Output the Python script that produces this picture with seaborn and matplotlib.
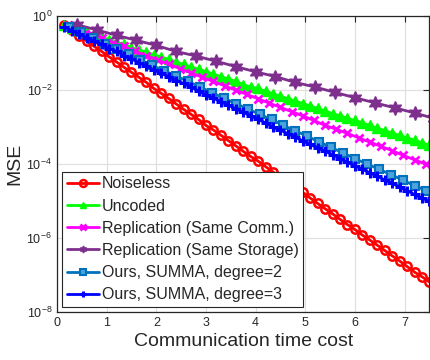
import numpy as np
import matplotlib
matplotlib.use('Agg')
import matplotlib.pyplot as plt
import seaborn as sns

# MSE values (log axis), one list per method
# time step between markers (communication time per iteration) for each method
step_noiseless = 0.15
step_uncoded = 0.15
step_rep_comm = 0.225
step_rep_storage = 0.4
step_summa2 = 0.24
step_summa3 = 0.15

mse_noiseless = [5.6e-1, 4.1e-1, 2.9e-1, 2.1e-1, 1.5e-1, 1.1e-1, 7.9e-2, 5.7e-2, 4.1e-2, 3.0e-2,
                 2.2e-2, 1.6e-2, 1.1e-2, 8.1e-3, 5.9e-3, 4.2e-3, 3.0e-3, 2.2e-3, 1.6e-3, 1.1e-3,
                 8.3e-4, 6.0e-4, 4.3e-4, 3.1e-4, 2.2e-4, 1.6e-4, 1.2e-4, 8.5e-5, 6.1e-5, 4.4e-5,
                 3.2e-5, 2.3e-5, 1.7e-5, 1.2e-5, 8.6e-6, 6.2e-6, 4.5e-6, 3.2e-6, 2.3e-6, 1.7e-6,
                 1.2e-6, 8.8e-7, 6.4e-7, 4.6e-7, 3.3e-7, 2.4e-7, 1.7e-7, 1.2e-7, 9.0e-8, 6.5e-8]
mse_uncoded = [5.6e-1, 4.8e-1, 4.2e-1, 3.6e-1, 3.1e-1, 2.6e-1, 2.3e-1, 1.9e-1, 1.7e-1, 1.4e-1,
               1.2e-1, 1.05e-1, 9.0e-2, 7.7e-2, 6.7e-2, 5.7e-2, 4.9e-2, 4.2e-2, 3.6e-2, 3.1e-2,
               2.7e-2, 2.3e-2, 2.0e-2, 1.7e-2, 1.4e-2, 1.2e-2, 1.1e-2, 9.2e-3, 7.9e-3, 6.8e-3,
               5.8e-3, 5.0e-3, 4.3e-3, 3.7e-3, 3.2e-3, 2.7e-3, 2.3e-3, 2.0e-3, 1.7e-3, 1.5e-3,
               1.3e-3, 1.1e-3, 9.3e-4, 8.0e-4, 6.9e-4, 5.9e-4, 5.1e-4, 4.4e-4, 3.7e-4, 3.2e-4]
mse_rep_comm = [5.6e-1, 4.3e-1, 3.3e-1, 2.5e-1, 1.9e-1, 1.5e-1, 1.1e-1, 8.5e-2, 6.5e-2, 5.0e-2,
                3.8e-2, 2.9e-2, 2.2e-2, 1.7e-2, 1.3e-2, 9.9e-3, 7.6e-3, 5.8e-3, 4.4e-3, 3.4e-3,
                2.6e-3, 2.0e-3, 1.5e-3, 1.1e-3, 8.7e-4, 6.7e-4, 5.1e-4, 3.9e-4, 3.0e-4, 2.3e-4,
                1.7e-4, 1.3e-4, 1.0e-4, 7.7e-5]
mse_rep_storage = [5.8e-1, 4.2e-1, 3.0e-1, 2.2e-1, 1.6e-1, 1.1e-1, 8.3e-2, 6.0e-2, 4.3e-2, 3.1e-2,
                   2.3e-2, 1.6e-2, 1.2e-2, 8.6e-3, 6.2e-3, 4.5e-3, 3.3e-3, 2.4e-3, 1.7e-3]
mse_summa2 = [5.0e-1, 3.6e-1, 2.5e-1, 1.8e-1, 1.3e-1, 9.2e-2, 6.5e-2, 4.6e-2, 3.3e-2, 2.4e-2,
              1.7e-2, 1.2e-2, 8.5e-3, 6.0e-3, 4.3e-3, 3.1e-3, 2.2e-3, 1.6e-3, 1.1e-3, 7.9e-4,
              5.6e-4, 4.0e-4, 2.8e-4, 2.0e-4, 1.4e-4, 1.0e-4, 7.3e-5, 5.2e-5, 3.7e-5, 2.6e-5,
              1.9e-5, 1.3e-5]
mse_summa3 = [5.0e-1, 4.0e-1, 3.2e-1, 2.6e-1, 2.1e-1, 1.7e-1, 1.3e-1, 1.1e-1, 8.5e-2, 6.9e-2,
              5.5e-2, 4.4e-2, 3.5e-2, 2.8e-2, 2.3e-2, 1.8e-2, 1.5e-2, 1.2e-2, 9.4e-3, 7.5e-3,
              6.0e-3, 4.8e-3, 3.9e-3, 3.1e-3, 2.5e-3, 2.0e-3, 1.6e-3, 1.3e-3, 1.0e-3, 8.2e-4,
              6.6e-4, 5.3e-4, 4.2e-4, 3.4e-4, 2.7e-4, 2.2e-4, 1.8e-4, 1.4e-4, 1.1e-4, 9.0e-5,
              7.2e-5, 5.8e-5, 4.7e-5, 3.7e-5, 3.0e-5, 2.4e-5, 1.9e-5, 1.5e-5, 1.2e-5, 9.9e-6]

labels = ['Noiseless', 'Uncoded', 'Replication (Same Comm.)', 'Replication (Same Storage)',
          'Ours, SUMMA, degree=2', 'Ours, SUMMA, degree=3']

x_ticks = [0, 1, 2, 3, 4, 5, 6, 7]
y_ticks = [1e-8, 1e-6, 1e-4, 1e-2, 1e0]

sns.set_style('whitegrid')
plt.rcParams['font.family'] = ['Liberation Sans', 'DejaVu Sans']


def times(step, vals):
    return step * np.arange(1, len(vals) + 1)


# MATLAB-like line/marker styles
series = [
    (step_noiseless, mse_noiseless, dict(color='#FF0000', marker='o', markersize=6,
                                         markerfacecolor='none', markeredgecolor='#FF0000',
                                         markeredgewidth=1.8)),
    (step_uncoded, mse_uncoded, dict(color='#00FF00', marker='^', markersize=7,
                                     markeredgecolor='#00FF00', markeredgewidth=1.0)),
    (step_rep_comm, mse_rep_comm, dict(color='#FF00FF', marker='x', markersize=6,
                                       markeredgecolor='#FF00FF', markeredgewidth=2.0)),
    (step_rep_storage, mse_rep_storage, dict(color='#7E2F8E', marker=(6, 1, 0), markersize=10,
                                             markeredgecolor='#7E2F8E', markeredgewidth=1.0)),
    (step_summa2, mse_summa2, dict(color='#0072BD', marker='s', markersize=6,
                                   markerfacecolor='#4DA3DB', markeredgecolor='#0072BD',
                                   markeredgewidth=1.5)),
    (step_summa3, mse_summa3, dict(color='#0000FF', marker='+', markersize=7,
                                   markeredgecolor='#0000FF', markeredgewidth=2.2)),
]

fig = plt.figure(figsize=(4.3, 3.6), dpi=100)
ax = fig.add_axes([0.1326, 0.1333, 0.866, 0.8223])

for (step, vals, style), lab in zip(series, labels):
    sns.lineplot(x=times(step, vals), y=vals, ax=ax, label=lab, linewidth=2.0,
                 linestyle='-', **style)

ax.set_yscale('log')
ax.set_xlim(0, 7.5)
ax.set_ylim(1e-8, 1e0)
ax.set_xticks(x_ticks)
ax.set_yticks(y_ticks)
ax.yaxis.set_minor_locator(matplotlib.ticker.NullLocator())
ax.grid(True, color='#E0E0E0', linewidth=0.9)
ax.tick_params(direction='in', length=4, width=0.8, labelsize=9, colors='#262626',
               top=True, right=True, labelcolor='#262626')
for sp in ax.spines.values():
    sp.set_color('#262626')
    sp.set_linewidth(0.9)

ax.set_xlabel('Communication time cost', fontsize=14, color='#262626', labelpad=3)
ax.set_ylabel('MSE', fontsize=14, color='#262626', labelpad=2)

leg = ax.legend(loc='lower left', fontsize=11.5, frameon=True, fancybox=False,
                edgecolor='#262626', framealpha=1, borderaxespad=0.3,
                handlelength=2.0, handletextpad=0.2, labelspacing=0.45, borderpad=0.3)
leg.get_frame().set_linewidth(0.8)
for h in leg.legend_handles:
    h.set_markersize(5)

fig.savefig('out.png', dpi=100)
